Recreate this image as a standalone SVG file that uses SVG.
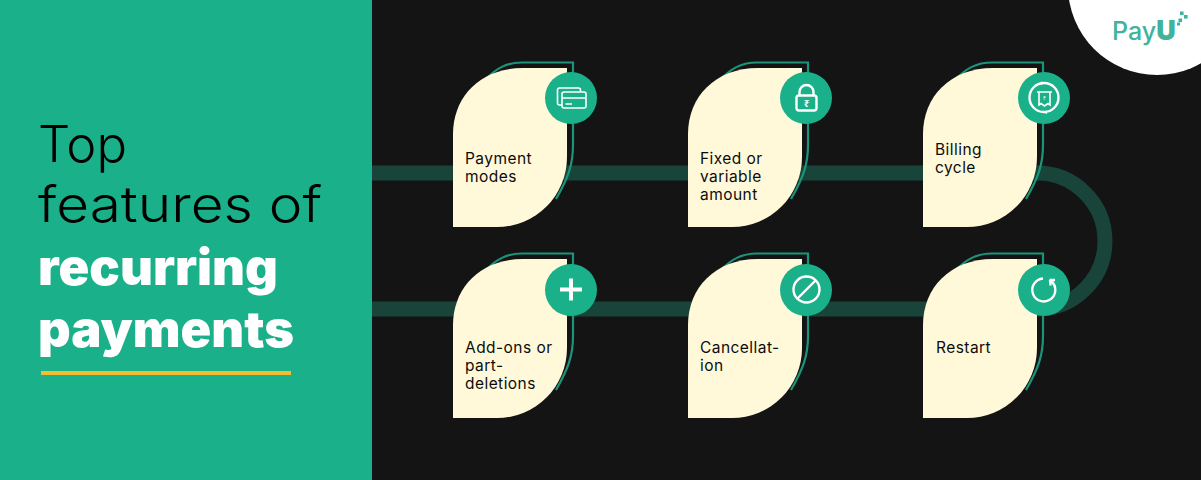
<svg xmlns="http://www.w3.org/2000/svg" width="1201" height="480" viewBox="0 0 1201 480">
<style>
.lbl{font-family:"Inter","Liberation Sans",sans-serif;font-size:15.5px;font-weight:400;fill:#0c0c0c;letter-spacing:.45px}
.ttl{font-family:"Inter","Liberation Sans",sans-serif;font-size:50px;font-weight:300;fill:#000}
.bld{font-family:"Inter","Liberation Sans",sans-serif;font-size:50px;font-weight:900;fill:#fff}
.badge{fill:#1ab08a}
.ic{fill:none;stroke:#fff;stroke-width:2.4}
.thin{stroke-width:1.6}
.thick{stroke-width:4}
.track{fill:none;stroke:#19443a;stroke-width:15}
.out{fill:none;stroke:#1a957a;stroke-width:2.2}
.leaf{fill:#fff9da}
</style>
<defs>
<path id="lf" d="M567 68V157A70 70 0 0 1 497 227H453V134C453 97 480 68 523 68Z"/>
<path id="ol" d="M487 78C496 69 506 62.500 522 62.500H573V145C573 165 568 178 556 199"/>
</defs>
<rect width="1201" height="480" fill="#141414"/>
<rect width="372" height="480" fill="#1ab08a"/>
<g id="title">
<text class="ttl" x="38" y="162" textLength="89" lengthAdjust="spacingAndGlyphs">Top</text>
<text class="ttl" x="38" y="222" textLength="284" lengthAdjust="spacingAndGlyphs">features of</text>
<text class="bld" x="38" y="285" textLength="240" lengthAdjust="spacingAndGlyphs">recurring</text>
<text class="bld" x="38" y="347" textLength="256" lengthAdjust="spacingAndGlyphs">payments</text>
<rect x="41" y="371" width="250" height="4" fill="#f4bd2f"/>
</g>
<g id="logo">
<circle cx="1157" cy="-14" r="89" fill="#fff"/>
<text x="1112" y="40" font-family="Inter,'Liberation Sans',sans-serif" font-size="25" font-weight="500" fill="#3fb39b">Pay<tspan font-size="27" font-weight="900">U</tspan></text>
<g fill="#3fb39b"><rect x="1180" y="11.500" width="3.600" height="3.600"/><rect x="1184" y="15" width="3.600" height="3.600"/><rect x="1178.500" y="18.500" width="3.600" height="3.600"/><rect x="1177" y="22.500" width="3" height="3"/></g>
</g>
<g id="connectors">
<path class="track" d="M372 173H1037A68 68 0 0 1 1037 309H372"/>
</g>
<g id="node-payment-modes">
<use href="#ol" class="out"/><use href="#lf" class="leaf"/>
<text class="lbl"><tspan x="465" y="164">Payment</tspan><tspan x="465" y="182">modes</tspan></text>
<circle class="badge" cx="571" cy="98" r="26"/>
<g class="ic thin"><rect x="557.500" y="88" width="23" height="17" rx="2"/><rect x="562" y="92" width="24" height="16" rx="2" fill="#1ab08a"/><path d="M562 98H586M565.500 104H572"/></g>
</g>
<g id="node-fixed-amount">
<use href="#ol" class="out" x="235"/><use href="#lf" class="leaf" x="235"/>
<text class="lbl"><tspan x="700" y="164">Fixed or</tspan><tspan x="700" y="182">variable</tspan><tspan x="700" y="200">amount</tspan></text>
<circle class="badge" cx="806" cy="98" r="26"/>
<g class="ic"><rect x="796.500" y="95.500" width="20" height="15" rx="2.500"/><path d="M799.500 95V92A7 7 0 0 1 813.500 92V95"/></g>
<text x="806.500" y="107" font-family="'Noto Sans',sans-serif" font-size="10" font-weight="700" fill="#fff" text-anchor="middle">₹</text>
</g>
<g id="node-billing-cycle">
<use href="#ol" class="out" x="470"/><use href="#lf" class="leaf" x="470"/>
<text class="lbl"><tspan x="935" y="155">Billing</tspan><tspan x="935" y="173">cycle</tspan></text>
<circle class="badge" cx="1044" cy="98" r="26"/>
<circle class="ic" cx="1044" cy="97.500" r="14.500"/>
<path fill="#fff" d="M1041 81.500L1046 83 1041 85ZM1047 110.500L1042 112 1047 114Z"/>
<path class="ic thin" d="M1039 92V105L1041 103.500 1044.500 106 1048 103.500 1050 105V92M1037 92H1052"/>
<text x="1044.500" y="100" font-family="'Noto Sans',sans-serif" font-size="5" fill="#fff" text-anchor="middle">₹</text>
</g>
<g id="node-add-ons">
<use href="#ol" class="out" y="191"/><use href="#lf" class="leaf" y="191"/>
<text class="lbl"><tspan x="465" y="353">Add-ons or</tspan><tspan x="465" y="371">part-</tspan><tspan x="465" y="389">deletions</tspan></text>
<circle class="badge" cx="571" cy="290" r="26"/>
<path class="ic thick" d="M560 289.500H582M571 278.500V300.500"/>
</g>
<g id="node-cancellation">
<use href="#ol" class="out" x="235" y="191"/><use href="#lf" class="leaf" x="235" y="191"/>
<text class="lbl"><tspan x="700" y="353">Cancellat-</tspan><tspan x="700" y="371">ion</tspan></text>
<circle class="badge" cx="806" cy="290" r="26"/>
<g class="ic"><circle cx="806.500" cy="289.500" r="13"/><path d="M797.500 298.500L815.500 280.500"/></g>
</g>
<g id="node-restart">
<use href="#ol" class="out" x="470" y="191"/><use href="#lf" class="leaf" x="470" y="191"/>
<text class="lbl" x="936" y="353">Restart</text>
<circle class="badge" cx="1044" cy="290" r="26"/>
<path class="ic" d="M1051 281A11.500 11.500 0 1 1 1043 278.500M1049.500 280H1055M1050 280L1050.500 285.500"/>
</g>
</svg>
